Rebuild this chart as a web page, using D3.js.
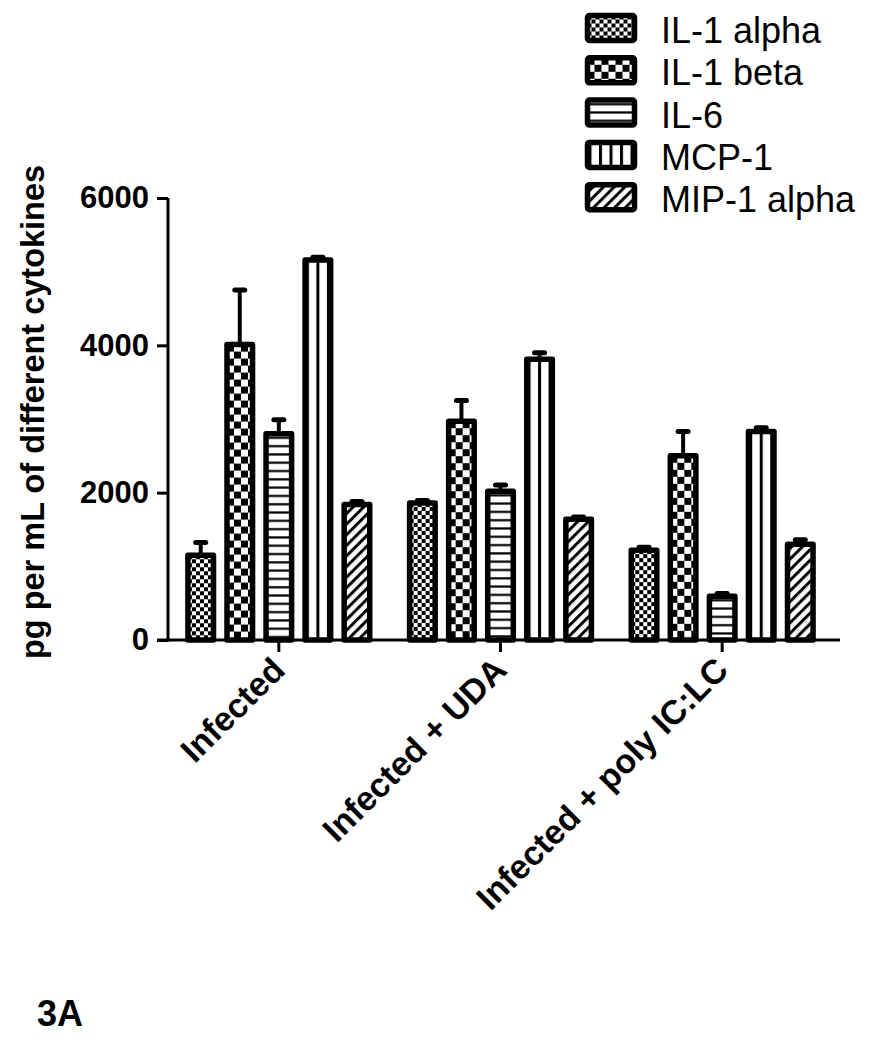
<!DOCTYPE html>
<html>
<head>
<meta charset="utf-8">
<script src="https://cdn.jsdelivr.net/npm/d3@7"></script>
<style>
  body { margin: 0; background: #fff; }
  svg { display: block; font-family: "Liberation Sans", Arial, sans-serif; }
</style>
</head>
<body>
<div id="chart"></div>
<script>
var groups = ['Infected', 'Infected + UDA', 'Infected + poly IC:LC'];
var series = ['IL-1 alpha', 'IL-1 beta', 'IL-6', 'MCP-1', 'MIP-1 alpha'];
// mean values per group, in series order
var means = [
  [1150, 4010, 2800, 5160, 1840],
  [1860, 2970, 2020, 3810, 1640],
  [1220, 2500, 595, 2830, 1300]
];
// upper error (SEM)
var errs = [
  [175, 740, 190, 35, 40],
  [35, 280, 85, 90, 30],
  [40, 330, 35, 50, 60]
];
var yTicks = [0, 2000, 4000, 6000];

var W = 870, H = 1050;
var svg = d3.select('#chart').append('svg').attr('width', W).attr('height', H);
var defs = svg.append('defs');

var y = d3.scaleLinear().domain([0, 6000]).range([640, 198]);
var x0 = d3.scaleBand().domain(groups).range([168, 833]);
var x1 = d3.scaleBand().domain(series).range([0, x0.bandwidth()])
  .paddingInner(0.205).paddingOuter(0.44);

var SW = 5.5; // bar outline width

// one pattern per series, tile origin set per use
function makePattern(id, s, ox, oy) {
  var p;
  if (s === 0) {
    p = defs.append('pattern').attr('id', id).attr('patternUnits', 'userSpaceOnUse')
      .attr('width', 8).attr('height', 8).attr('x', ox).attr('y', oy);
    p.append('rect').attr('width', 8).attr('height', 8).attr('fill', '#fff');
    p.append('rect').attr('width', 4).attr('height', 4).attr('fill', '#000');
    p.append('rect').attr('x', 4).attr('y', 4).attr('width', 4).attr('height', 4).attr('fill', '#000');
  } else if (s === 1) {
    p = defs.append('pattern').attr('id', id).attr('patternUnits', 'userSpaceOnUse')
      .attr('width', 14).attr('height', 14).attr('x', ox).attr('y', oy);
    p.append('rect').attr('width', 14).attr('height', 14).attr('fill', '#fff');
    p.append('rect').attr('width', 7).attr('height', 7).attr('fill', '#000');
    p.append('rect').attr('x', 7).attr('y', 7).attr('width', 7).attr('height', 7).attr('fill', '#000');
  } else if (s === 2) {
    p = defs.append('pattern').attr('id', id).attr('patternUnits', 'userSpaceOnUse')
      .attr('width', 8).attr('height', 8.3).attr('x', ox).attr('y', oy);
    p.append('rect').attr('width', 8).attr('height', 8.3).attr('fill', '#fff');
    p.append('rect').attr('y', 3).attr('width', 8).attr('height', 2.2).attr('fill', '#000');
  } else if (s === 3) {
    p = defs.append('pattern').attr('id', id).attr('patternUnits', 'userSpaceOnUse')
      .attr('width', 10.5).attr('height', 10).attr('x', ox).attr('y', oy);
    p.append('rect').attr('width', 10.5).attr('height', 10).attr('fill', '#fff');
    p.append('rect').attr('x', 0).attr('width', 3).attr('height', 10).attr('fill', '#000');
  } else {
    p = defs.append('pattern').attr('id', id).attr('patternUnits', 'userSpaceOnUse')
      .attr('width', 7.5).attr('height', 7.5).attr('x', ox).attr('y', oy)
      .attr('patternTransform', 'rotate(45)');
    p.append('rect').attr('width', 7.5).attr('height', 7.5).attr('fill', '#fff');
    p.append('rect').attr('width', 3).attr('height', 7.5).attr('fill', '#000');
  }
}

// bars
groups.forEach(function (g, gi) {
  var gx = x0(g);
  series.forEach(function (s, si) {
    var bx = gx + x1(s);
    var bw = x1.bandwidth();
    var v = means[gi][si];
    var e = errs[gi][si];
    var id = 'pat-' + gi + '-' + si;
    var ox = bx + SW / 2;
    if (si === 3) { ox = bx + bw / 2 - 1.5; }
    makePattern(id, si, ox, y(v));
    var cx = bx + bw / 2;
    // error bar (upper only)
    svg.append('line')
      .attr('x1', cx).attr('x2', cx)
      .attr('y1', y(v)).attr('y2', y(v + e))
      .attr('stroke', '#000').attr('stroke-width', 4);
    svg.append('line')
      .attr('x1', cx - 5).attr('x2', cx + 5)
      .attr('y1', y(v + e)).attr('y2', y(v + e))
      .attr('stroke', '#000').attr('stroke-width', 5).attr('stroke-linecap', 'round');
    svg.append('rect')
      .attr('x', bx + SW / 2).attr('y', y(v))
      .attr('width', bw - SW).attr('height', y(0) - y(v))
      .attr('fill', 'url(#' + id + ')')
      .attr('stroke', '#000').attr('stroke-width', SW)
      .attr('stroke-linejoin', 'round');
  });
});

// y axis
svg.append('g')
  .attr('transform', 'translate(168,0)')
  .call(d3.axisLeft(y).tickValues(yTicks).tickSize(11).tickPadding(8).tickFormat(d3.format('d')))
  .call(function (g) {
    g.select('.domain').attr('stroke', '#000').attr('stroke-width', 3).attr('d', 'M0,198V641.5');
    g.selectAll('.tick line').attr('stroke', '#000').attr('stroke-width', 3);
    g.selectAll('text').attr('fill', '#000').style('font-size', '31px').style('font-weight', 'bold')
      .style('font-family', '"Liberation Sans", Arial, sans-serif');
  });

// x axis
svg.append('g')
  .attr('transform', 'translate(0,640)')
  .call(d3.axisBottom(x0).tickSize(12).tickFormat(''))
  .call(function (g) {
    g.select('.domain').attr('stroke', '#000').attr('stroke-width', 3).attr('d', 'M157,0H840');
    g.selectAll('.tick line').attr('stroke', '#000').attr('stroke-width', 3);
  });

svg.selectAll('.xlab').data(groups).enter().append('text')
  .attr('class', 'xlab')
  .attr('transform', function (d) { return 'translate(' + (x0(d) + x0.bandwidth() / 2 + 8) + ',672) rotate(-45)'; })
  .attr('text-anchor', 'end')
  .style('font-size', '34px').style('font-weight', 'bold')
  .text(function (d) { return d; });

// y title
svg.append('text')
  .attr('transform', 'translate(44,412) rotate(-90)')
  .attr('text-anchor', 'middle')
  .style('font-size', '32.5px').style('font-weight', 'bold')
  .text('pg per mL of different cytokines');

// legend
series.forEach(function (s, i) {
  var top = 13 + i * 42.3;
  var id = 'leg-' + i;
  var ox = 587.5;
  if (i === 3) { ox = 599; }
  makePattern(id, i, ox, top + 2.5);
  svg.append('rect')
    .attr('x', 587.5).attr('y', top + 2.5)
    .attr('width', 47).attr('height', 25).attr('rx', 2)
    .attr('fill', 'url(#' + id + ')')
    .attr('stroke', '#000').attr('stroke-width', SW)
    .attr('stroke-linejoin', 'round');
  svg.append('text')
    .attr('x', 661).attr('y', top + 30)
    .style('font-size', '36px')
    .text(s);
});

svg.append('text')
  .attr('x', 37).attr('y', 1026)
  .style('font-size', '36px').style('font-weight', 'bold')
  .text('3A');
</script>
</body>
</html>
